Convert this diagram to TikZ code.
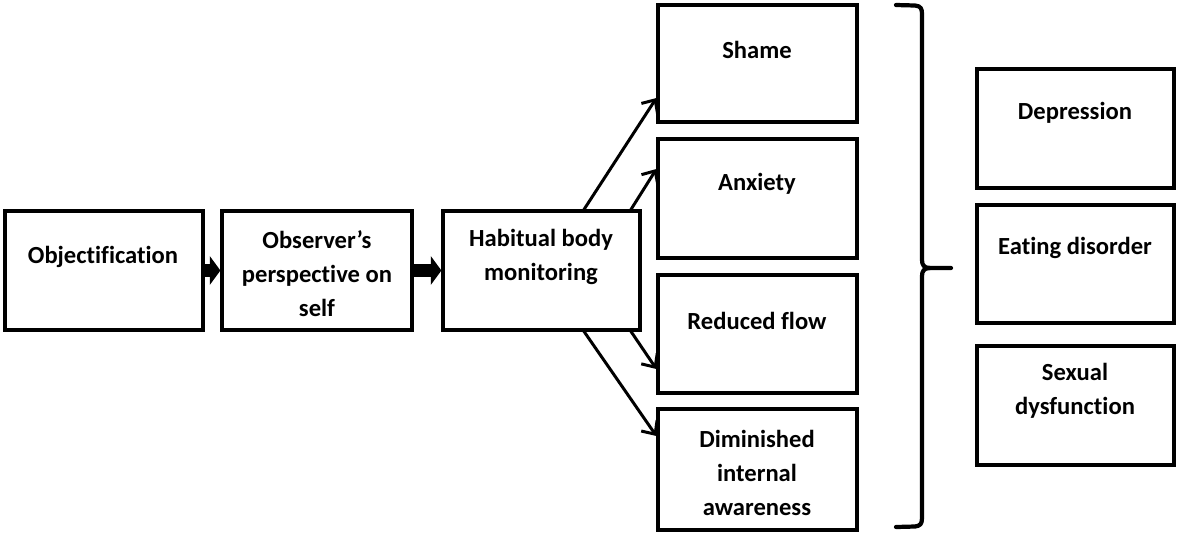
\documentclass[tikz,border=0pt]{standalone}
\usepackage{fontspec}
\setmainfont{Carlito}[Ligatures={NoCommon}]
\usetikzlibrary{arrows.meta}
\begin{document}
\begin{tikzpicture}[x=0.02cm,y=-0.02cm,
  box/.style={draw=black,line width=1.8pt,fill=white,inner sep=0pt},
  txt/.style={font=\fontsize{14}{19.3}\selectfont\bfseries,align=center,inner sep=0pt},
  fat/.style={line width=7.5pt,-{Triangle[length=6pt,width=16pt]}},
  thin/.style={line width=1.7pt,-{Straight Barb[length=6pt,width=11pt,line width=1.7pt]}}]
\useasboundingbox (0,0) rectangle (1177,535);
% main chain
\node[box,minimum width=198*0.02cm,minimum height=119*0.02cm] (obj) at (104,270.5) {};
\node[box,minimum width=190*0.02cm,minimum height=119*0.02cm] (obs) at (317,270.5) {};
\node[box,minimum width=197*0.02cm,minimum height=119*0.02cm] (hab) at (541.5,270.5) {};
\node[txt] (tobj) at (103,257) {Objectification};
\node[txt] (tobs) at (317,274) {Observer’s\\perspective on\\self};
\node[txt] (thab) at (541,257) {Habitual body\\monitoring};
% outcomes
\node[box,minimum width=199*0.02cm,minimum height=117*0.02cm] (sha) at (757.5,63.5) {};
\node[box,minimum width=199*0.02cm,minimum height=119*0.02cm] (anx) at (757.5,198.5) {};
\node[box,minimum width=199*0.02cm,minimum height=118*0.02cm] (red) at (757.5,334) {};
\node[box,minimum width=199*0.02cm,minimum height=121*0.02cm] (dim) at (757.5,469.5) {};
\node[txt] (tsha) at (757,50) {Shame};
\node[txt] (tanx) at (757,184) {Anxiety};
\node[txt] (tred) at (757,321) {Reduced flow};
\node[txt] (tdim) at (757,473) {Diminished\\internal\\awareness};
% consequences
\node[box,minimum width=197*0.02cm,minimum height=119*0.02cm] (dep) at (1075.5,128.5) {};
\node[box,minimum width=197*0.02cm,minimum height=118*0.02cm] (eat) at (1075.5,264) {};
\node[box,minimum width=197*0.02cm,minimum height=119*0.02cm] (sex) at (1075.5,405.5) {};
\node[txt] (tdep) at (1075,113) {Depression};
\node[txt] (teat) at (1075,248) {Eating disorder};
\node[txt] (tsex) at (1075,391) {Sexual\\dysfunction};
% fat arrows
\draw[fat] (obj.east) -- (obs.west);
\draw[fat] (obs.east) -- (hab.west);
% thin arrows
\coordinate (h1) at (583,211);
\coordinate (h2) at (630,211);
\coordinate (h3) at (630,330);
\coordinate (h4) at (583,330);
\draw[thin] (h1) -- (sha.west |- 0,98);
\draw[thin] (h2) -- (anx.west |- 0,169);
\draw[thin] (h3) -- (red.west |- 0,369);
\draw[thin] (h4) -- (dim.west |- 0,436);
% brace
\coordinate (bt) at (896,5);
\coordinate (bb) at (896,527);
\coordinate (tip) at (951,268);
\draw[line width=2.4pt,line cap=round,line join=round]
  (bt) -- (915,5.5) .. controls (921,6) and (922,9) .. (922,14)
  -- (922,260) .. controls (922,265) and (924,268) .. (930,268) -- (tip);
\draw[line width=2.4pt,line cap=round,line join=round]
  (930,268) .. controls (924,268) and (922,271) .. (922,276)
  -- (922,518) .. controls (922,524) and (920,526) .. (915,526.5) -- (bb);
\end{tikzpicture}
\end{document}
